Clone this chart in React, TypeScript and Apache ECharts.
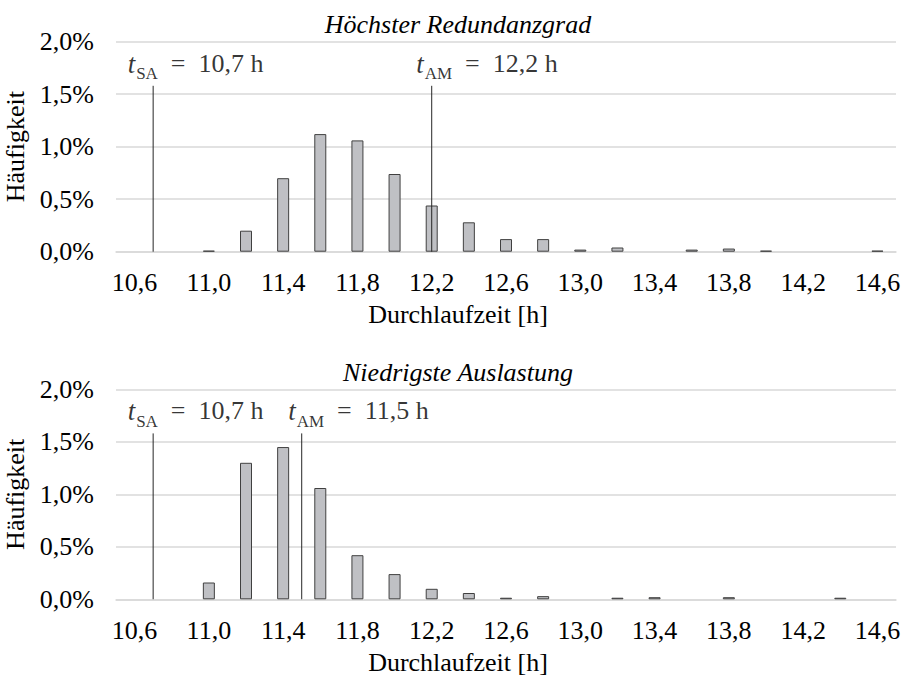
import React, { useEffect, useRef } from 'react';
import * as echarts from 'echarts';

// ---- data ----
const xBins = [10.6, 10.8, 11.0, 11.2, 11.4, 11.6, 11.8, 12.0, 12.2, 12.4, 12.6, 12.8, 13.0, 13.2, 13.4, 13.6, 13.8, 14.0, 14.2, 14.4, 14.6];
const xLabelValues = [10.6, 11.0, 11.4, 11.8, 12.2, 12.6, 13.0, 13.4, 13.8, 14.2, 14.6];
const shareRedundanz = [0, 0, 0.01, 0.2, 0.7, 1.12, 1.06, 0.74, 0.44, 0.28, 0.12, 0.12, 0.02, 0.04, 0, 0.02, 0.03, 0.01, 0, 0, 0.01];
const shareAuslastung = [0, 0, 0.16, 1.3, 1.45, 1.06, 0.42, 0.24, 0.1, 0.06, 0.015, 0.03, 0, 0.015, 0.02, 0, 0.02, 0, 0, 0.015, 0];
const panelTitles = ['Höchster Redundanzgrad', 'Niedrigste Auslastung'];
const xAxisTitle = 'Durchlaufzeit [h]';
const yAxisTitle = 'Häufigkeit';
const refRedundanz = [{ sub: 'SA', value: 10.7 }, { sub: 'AM', value: 12.2 }];
const refAuslastung = [{ sub: 'SA', value: 10.7 }, { sub: 'AM', value: 11.5 }];
const refLineTop = 1.58;
const yMin = 0;
const yMax = 2.0;
const yInterval = 0.5;

// ---- styling / layout ----
const FONT = 'Liberation Serif';
const GRID_COLOR = '#d9d9d9';
const BAR_FILL = '#bfc0c4';
const BAR_BORDER = '#404040';
const gridTops = [41.7, 389.3];
const GRID_H = 210;
const GRID_LEFT = 116;
const GRID_RIGHT = 8;
// label offsets relative to each line's top end (per panel, per line)
const labelOffsets = [
  [[-25, -35], [-15, -35]],
  [[-25, -35], [-13, -35]],
];

const fmtNum = (v: number) => v.toFixed(1).replace('.', ',');

const richStyles = {
  t: { fontFamily: FONT, fontStyle: 'italic', fontSize: 27, lineHeight: 30, verticalAlign: 'top', color: '#000' },
  s: { fontFamily: FONT, fontSize: 17, lineHeight: 17, padding: [15, 0, 0, 1], verticalAlign: 'top', color: '#000' },
  r: { fontFamily: FONT, fontSize: 26, lineHeight: 30, verticalAlign: 'top', color: '#000' },
};

function buildOption() {
  const panels = [
    { values: shareRedundanz, refs: refRedundanz },
    { values: shareAuslastung, refs: refAuslastung },
  ];

  const grid = gridTops.map((top) => ({
    left: GRID_LEFT,
    right: GRID_RIGHT,
    top,
    height: GRID_H,
    containLabel: false,
    outerBoundsMode: 'none',
  }));

  const xAxis = panels.map((_, i) => ({
    type: 'value',
    gridIndex: i,
    min: 10.5,
    max: 14.7,
    axisLine: { show: true, lineStyle: { color: GRID_COLOR, width: 1.5 } },
    axisTick: { show: false },
    splitLine: { show: false },
    axisLabel: {
      customValues: xLabelValues,
      formatter: (v: number) => fmtNum(v),
      fontFamily: FONT,
      fontSize: 26,
      color: '#000',
      margin: 18,
    },
  }));

  const yAxis = panels.map((_, i) => ({
    type: 'value',
    gridIndex: i,
    min: yMin,
    max: yMax,
    interval: yInterval,
    name: yAxisTitle,
    nameLocation: 'middle',
    nameRotate: 90,
    nameGap: 79,
    nameTextStyle: { fontFamily: FONT, fontSize: 26, color: '#000' },
    axisLine: { show: false },
    axisTick: { show: false },
    splitLine: { show: true, lineStyle: { color: GRID_COLOR, width: 1.5 } },
    axisLabel: {
      formatter: (v: number) => fmtNum(v) + '%',
      fontFamily: FONT,
      fontSize: 26,
      color: '#000',
      margin: 22,
    },
  }));

  const series: any[] = [];
  panels.forEach((p, i) => {
    series.push({
      type: 'bar',
      xAxisIndex: i,
      yAxisIndex: i,
      barWidth: 12,
      data: xBins.map((x, k) => {
        const v = p.values[k];
        return v > 0
          ? { value: [x, v] }
          : { value: [x, v], itemStyle: { borderWidth: 0, color: 'transparent' } };
      }),
      itemStyle: { color: BAR_FILL, borderColor: BAR_BORDER, borderWidth: 1 },
      z: 2,
    });
    p.refs.forEach((r, j) => {
      series.push({
        type: 'line',
        xAxisIndex: i,
        yAxisIndex: i,
        data: [[r.value, 0], [r.value, refLineTop]],
        symbol: 'none',
        lineStyle: { color: '#262626', width: 1 },
        z: 5,
        silent: true,
      });
      series.push({
        type: 'scatter',
        xAxisIndex: i,
        yAxisIndex: i,
        symbolSize: 1,
        itemStyle: { color: 'transparent' },
        data: [[r.value, refLineTop]],
        silent: true,
        label: {
          show: true,
          position: labelOffsets[i][j],
          formatter: () => `{t|t}{s|${r.sub}}{r|\u2002=\u2002${fmtNum(r.value)} h}`,
          rich: richStyles,
        },
        z: 6,
      });
    });
  });

  const titleStyle = { fontFamily: FONT, fontSize: 26, fontWeight: 'normal', color: '#000' };
  const title = [
    { text: panelTitles[0], left: 458, top: 11, textAlign: 'center', padding: 0, textStyle: { ...titleStyle, fontStyle: 'italic' } },
    { text: panelTitles[1], left: 458, top: 359, textAlign: 'center', padding: 0, textStyle: { ...titleStyle, fontStyle: 'italic' } },
    { text: xAxisTitle, left: 458, top: 301, textAlign: 'center', padding: 0, textStyle: titleStyle },
    { text: xAxisTitle, left: 458, top: 649, textAlign: 'center', padding: 0, textStyle: titleStyle },
  ];

  return { animation: false, backgroundColor: '#ffffff', title, grid, xAxis, yAxis, series };
}

export default function App() {
  const ref = useRef<HTMLDivElement>(null);
  useEffect(() => {
    if (!ref.current) return;
    const chart = echarts.init(ref.current, undefined, { renderer: 'svg' });
    chart.setOption(buildOption() as any);
    return () => chart.dispose();
  }, []);
  return <div ref={ref} style={{ position: 'fixed', left: 0, top: 0, width: 904, height: 678, background: '#fff' }} />;
}
